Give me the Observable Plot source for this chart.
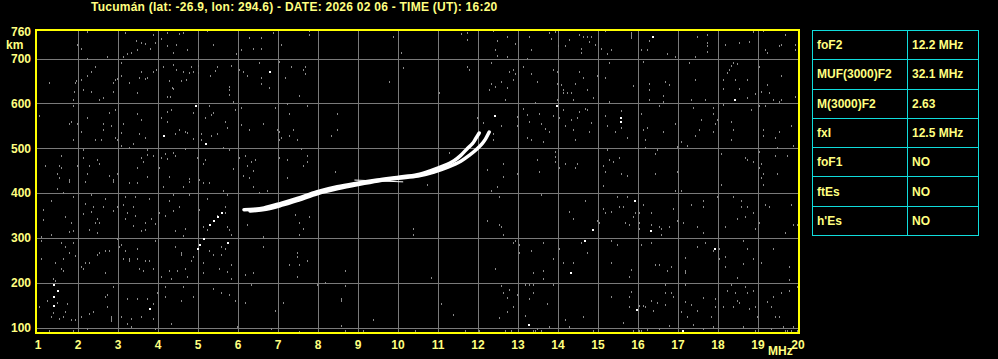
<!DOCTYPE html>
<html>
<head>
<meta charset="utf-8">
<script src="https://cdn.jsdelivr.net/npm/d3@7"></script>
<script src="https://cdn.jsdelivr.net/npm/@observablehq/plot@0.6"></script>
<style>
html, body { margin: 0; padding: 0; background: #000; }
#wrap { position: relative; width: 998px; height: 359px; overflow: hidden; background: #000;
  font-family: "Liberation Sans", Arial, sans-serif; font-weight: bold; color: #ffff80; }
#chart { position: absolute; left: 0; top: 0; }
.lbl { position: absolute; font-size: 12px; line-height: 12px; white-space: nowrap; color: #ffff80; }
#title { left: 91px; top: 1px; letter-spacing: 0.25px; }
#km { left: 6px; top: 39px; }
#mhz { left: 768px; top: 345px; }
#tbl { position: absolute; left: 812px; top: 30px; border-collapse: collapse; }
#tbl td { border: 1px solid #10dcdc; height: 29.3px; padding: 0 0 0 4px; font-size: 12px;
  color: #ffff80; vertical-align: middle; white-space: nowrap; box-sizing: border-box; }
#tbl td.k { width: 95px; }
#tbl td.v { width: 71px; }
</style>
</head>
<body>
<div id="wrap">
  <div id="chart"></div>
  <div class="lbl" id="title"></div>
  <div class="lbl" id="km">km</div>
  <div class="lbl" id="mhz">MHz</div>
  <table id="tbl"></table>
</div>
<script>
// ---------- texts ----------
const titleText = "Tucumán (lat: -26.9, lon: 294.6) - DATE: 2026 02 06 - TIME (UT): 16:20";
const paramNames = ["foF2", "MUF(3000)F2", "M(3000)F2", "fxI", "foF1", "ftEs", "h'Es"];
const paramValues = ["12.2 MHz", "32.1 MHz", "2.63", "12.5 MHz", "NO", "NO", "NO"];

// ---------- axes ----------
const freqTicks = d3.range(1, 21);            // MHz
const heightTicks = [100, 200, 300, 400, 500, 600, 700, 760]; // km
const gridFreq = d3.range(2, 20);
const gridHeight = [100, 200, 300, 400, 500, 600, 700];

// ---------- traces (MHz, km) ----------
const oFreq   = [6.15, 6.40, 6.65, 7.07, 7.48, 7.98, 8.48, 8.98, 9.48, 9.98, 10.48, 10.82, 11.15, 11.40, 11.57, 11.73, 11.86, 11.94, 12.03];
const oHeight = [364, 365, 368, 378, 389, 404, 415, 423, 430, 436, 442, 451, 462, 473, 485, 500, 511, 522, 535];
const xFreq   = [6.30, 6.70, 7.10, 7.50, 8.00, 8.50, 9.00, 9.50, 10.00, 10.50, 10.90, 11.25, 11.57, 11.78, 11.98, 12.11, 12.19, 12.28];
const xHeight = [361, 365, 374, 385, 400, 411, 420, 428, 434, 439, 448, 459, 472, 485, 500, 512, 522, 537];
const echoFreq   = [8.92, 9.50, 10.12];
const echoHeight = [430, 428, 426];

// ---------- background noise echoes (MHz, km) ----------
const noiseGray = [
[2.25,760],[3.19,758],[3.90,753],[4.25,758],[4.54,754],[4.65,758],[5.25,762],[4.10,744],[3.48,739],[3.61,734],[3.69,733],[3.94,735],
[4.25,727],[4.48,730],[4.40,713],[4.75,718],[5.39,730],[6.30,745],[6.59,745],[6.90,758],[7.11,730],[6.10,718],[6.40,722],[6.60,722],
[2.09,722],[2.00,731],[2.75,704],[3.15,704],[3.25,710],[3.36,713],[3.50,718],[3.82,722],[5.98,709],[7.05,693],[2.25,698],[2.45,680],
[2.35,669],[2.25,660],[2.10,652],[1.98,649],[1.94,645],[1.30,645],[1.92,626],[1.89,608],[2.15,630],[2.35,626],[2.55,608],[2.65,612],
[2.90,626],[2.90,645],[2.96,651],[3.00,654],[3.10,690],[3.10,662],[3.30,645],[3.50,622],[3.55,657],[3.61,669],[3.70,654],[3.75,657],
[3.90,671],[3.98,674],[4.15,681],[4.30,649],[4.38,635],[4.40,685],[4.48,675],[4.60,649],[4.65,671],[4.73,652],[4.80,667],[4.85,682],
[4.90,671],[5.03,684],[5.03,667],[5.33,662],[5.45,673],[5.50,680],[5.85,684],[5.80,637],[5.80,630],[5.80,618],[6.05,675],[6.15,671],
[6.25,660],[6.55,689],[6.60,657],[6.60,644],[6.80,635],[7.19,657],[4.25,615],[4.33,615],[4.39,633],
[1.89,594],[1.05,572],[1.80,554],[1.85,558],[2.00,555],[2.09,535],[1.89,518],[2.25,567],[2.45,518],[2.60,518],[2.65,554],[2.65,540],
[2.80,578],[2.85,549],[2.95,585],[2.95,522],[3.00,518],[3.10,533],[3.15,554],[3.30,501],[3.40,509],[3.50,576],[3.55,532],[3.60,563],
[3.70,522],[4.10,567],[4.25,581],[4.25,558],[4.35,585],[4.45,532],[4.55,540],[4.70,537],[4.75,533],[4.90,578],[4.90,521],[5.10,531],
[5.10,518],[5.20,567],[5.30,594],[5.35,573],[5.40,578],[5.35,527],[5.50,532],[5.70,559],[5.75,545],[5.90,602],[5.95,585],[6.10,590],
[6.10,552],[6.30,540],[6.65,555],[6.95,590],[7.00,540],[7.05,536],[7.05,518],[7.25,599],[7.30,576],[7.30,527],[7.10,523],
[1.20,460],[1.55,460],[1.60,482],[1.60,456],[1.50,442],[1.55,433],[1.80,429],[2.00,460],[2.15,496],[2.15,479],[2.30,460],[2.25,442],
[2.50,473],[2.55,464],[2.80,438],[2.90,429],[3.00,442],[3.10,505],[3.50,456],[3.60,478],[3.65,469],[3.75,496],[3.75,485],[3.75,436],
[3.90,482],[4.05,456],[4.10,478],[4.20,487],[4.25,476],[4.30,436],[4.40,490],[4.45,482],[4.70,499],[4.80,432],[5.00,478],[5.05,429],
[5.15,464],[5.20,473],[5.90,454],[5.80,496],[5.65,500],[6.05,478],[6.20,482],[6.25,460],[6.35,469],[6.40,450],[6.45,473],[6.15,438],
[6.30,433],[7.05,478],[7.25,473],[7.25,433],
[7.79,762],[7.79,753],[9.89,749],[10.09,713],[7.35,680],[7.64,675],[7.70,680],[7.70,666],[10.14,679],[9.79,648],[7.55,617],[11.04,622],
[11.74,680],[11.79,675],[11.59,754],[11.74,758],[11.74,742],[12.39,762],[12.49,740],[12.74,748],[12.94,733],[13.29,749],[12.44,718],
[12.49,706],[12.74,704],[13.34,718],[13.24,699],[12.34,690],[13.14,680],[13.34,666],[12.79,670],[12.89,675],[12.94,666],[12.89,651],
[12.59,648],[12.44,637],[12.34,643],[12.29,630],[12.74,635],[13.49,648],[12.69,608],[13.44,600],[7.74,594],[8.49,576],[7.39,540],
[7.49,518],[8.49,540],[8.34,527],[7.59,499],[7.74,482],[7.64,460],[7.74,469],[8.44,447],[11.99,567],[12.14,557],[12.59,549],[12.39,532],
[12.39,518],[12.99,569],[13.14,587],[13.24,574],[13.29,558],[13.54,576],[13.59,555],[12.99,549],[13.24,523],[13.34,518],[13.64,514],
[11.29,490],[12.24,451],[12.64,464],[12.64,436],[12.99,442],[13.49,473],[13.54,447],
[13.96,760],[14.02,760],[13.79,757],[13.84,744],[14.02,727],[14.19,727],[14.29,742],[14.54,753],[14.64,749],[14.74,749],[14.84,749],
[14.79,736],[14.94,730],[14.59,722],[14.59,713],[15.19,762],[15.09,722],[15.24,709],[15.34,718],[15.84,757],[15.84,753],[15.84,749],
[15.84,745],[16.29,740],[16.09,718],[16.24,718],[16.74,709],[16.96,704],[17.49,749],[17.74,753],[17.74,734],[17.74,727],[17.74,715],
[17.44,704],[18.19,730],[18.54,734],[18.79,736],[18.89,760],[19.14,762],[19.19,718],[19.24,713],[19.54,727],[19.59,731],[19.69,753],
[19.94,730],[19.94,718],[13.89,675],[13.99,670],[14.54,669],[14.64,657],[14.44,643],[14.74,630],[14.89,613],[14.99,662],[13.99,643],
[14.09,640],[14.14,630],[14.14,622],[14.24,622],[14.34,622],[14.39,608],[13.99,608],[15.29,689],[15.19,657],[15.29,603],[15.89,639],
[16.14,692],[16.29,643],[16.29,630],[16.29,608],[16.69,648],[16.79,640],[16.64,617],[16.64,603],[17.29,689],[17.44,651],[17.34,608],
[17.69,608],[18.14,652],[18.14,633],[18.24,667],[18.29,675],[18.34,684],[18.39,690],[18.49,688],[18.44,652],[18.54,633],[18.74,652],
[18.74,612],[18.94,621],[19.04,680],[19.09,626],[19.24,640],[19.29,622],[19.39,608],[19.54,603],[19.59,660],[19.59,608],[19.94,615],
[14.14,585],[13.89,572],[14.04,567],[13.69,543],[13.79,536],[14.34,563],[14.39,540],[14.44,518],[14.49,567],[14.54,581],[14.69,587],
[14.74,585],[14.84,557],[14.79,536],[14.19,549],[15.19,572],[15.24,549],[15.59,584],[15.59,545],[15.44,536],[15.74,523],[16.09,576],
[16.14,540],[16.24,545],[16.19,518],[16.54,594],[16.64,536],[16.94,554],[17.09,514],[16.99,503],[17.24,505],[17.39,590],[17.44,527],
[17.59,563],[17.54,540],[17.89,590],[17.89,576],[17.94,554],[17.89,536],[17.99,563],[18.14,596],[18.34,558],[18.39,540],[18.34,518],
[18.84,585],[19.04,594],[19.14,540],[19.14,527],[19.44,523],[19.54,536],[19.84,549],[19.89,505],[19.19,594],
[13.94,491],[13.94,481],[13.94,469],[14.04,456],[14.19,464],[14.44,456],[14.49,464],[15.24,496],[15.29,473],[15.39,469],[15.54,478],
[15.14,460],[15.19,447],[15.59,442],[15.74,438],[16.19,500],[16.49,496],[16.44,487],[16.44,442],[16.99,447],[18.09,487],[18.69,478],
[18.74,473],[18.89,469],[19.04,491],[19.09,464],[19.04,456],[19.14,442],[19.09,433],[19.44,482],[19.49,500],[19.49,442],[19.74,482],
[1.80,425],[2.20,425],[2.90,425],[3.30,423],[3.50,423],[4.15,414],[4.65,414],[4.80,425],[5.15,423],[5.30,423],[5.65,405],[6.40,414],
[1.50,409],[1.65,400],[1.90,391],[2.35,396],[2.70,387],[3.20,391],[3.45,391],[3.80,387],[4.40,396],[4.80,396],[5.25,387],[5.75,396],
[6.55,400],[6.75,405],[1.15,362],[1.15,339],[1.35,383],[1.70,347],[1.85,332],[1.90,315],[1.80,313],[2.20,375],[2.15,354],[2.40,369],
[2.35,358],[2.50,343],[2.55,333],[2.45,333],[2.30,318],[2.50,311],[2.65,369],[2.90,360],[3.00,369],[3.15,374],[3.25,356],[3.20,342],
[3.40,369],[3.40,326],[3.45,348],[3.60,315],[3.70,333],[3.70,317],[3.85,342],[3.95,330],[4.05,356],[4.20,348],[4.30,383],[4.40,360],
[4.45,315],[4.55,369],[4.70,320],[4.65,305],[5.05,362],[5.15,324],[5.25,317],[5.50,348],[5.70,369],[5.70,356],[5.75,324],[5.80,317],
[5.85,306],[6.25,328],[6.65,302],[1.10,302],[1.10,293],[1.35,307],[1.60,289],[1.70,280],[1.80,266],[1.90,289],[1.65,253],[1.10,253],
[1.45,244],[1.60,230],[1.65,226],[1.95,259],[2.10,235],[2.15,230],[2.20,244],[2.30,244],[2.50,262],[2.55,266],[2.70,271],[2.80,271],
[2.70,222],[3.00,298],[3.05,280],[3.10,284],[3.20,271],[3.15,253],[3.30,253],[3.30,248],[3.50,275],[3.50,253],[3.55,230],[3.65,226],
[3.70,248],[3.80,248],[3.90,230],[3.95,293],[4.10,213],[4.30,226],[4.35,208],[4.45,280],[4.50,226],[4.60,266],[4.60,262],[4.70,230],
[4.75,213],[4.85,248],[4.90,257],[5.15,244],[5.15,222],[5.30,271],[5.40,262],[5.55,230],[5.60,280],[5.60,262],[5.70,275],[5.75,223],
[5.85,208],[5.85,239],[6.20,217],[6.40,222],[6.65,280],[7.30,239],[1.40,208],[1.45,204],[1.05,146],[1.25,159],[1.35,123],[1.40,132],
[1.50,155],[1.55,119],[1.65,123],[1.70,134],[1.75,152],[1.85,116],[1.95,116],[2.10,123],[2.25,96],[2.30,129],[2.40,134],[2.70,168],
[2.75,172],[2.75,146],[2.85,123],[2.85,119],[2.85,114],[2.90,190],[3.10,123],[3.25,163],[3.25,107],[3.35,101],[3.35,119],[3.50,163],
[3.60,123],[3.75,163],[3.90,152],[3.90,119],[3.95,96],[4.00,177],[4.20,190],[4.20,168],[4.35,107],[4.60,159],[4.65,190],[4.90,168],
[5.40,186],[5.60,177],[5.80,172],[5.95,160],[6.00,101],[6.20,155],[6.35,195],[6.85,96],[6.95,137],[7.15,155],
[10.74,418],[12.49,414],[12.34,405],[12.54,391],[13.59,396],[7.44,351],[7.79,347],[7.54,332],[7.64,320],[7.54,307],[10.39,320],[10.39,307],
[12.24,338],[12.54,329],[12.59,324],[12.64,307],[12.94,293],[12.89,289],[13.04,284],[13.04,266],[13.34,271],[13.64,289],[7.49,266],
[7.49,257],[7.74,248],[7.54,239],[7.49,213],[8.69,226],[10.84,211],[12.44,230],[13.39,222],[13.64,226],[13.64,208],[7.99,195],[8.19,199],
[8.69,192],[8.59,164],[8.59,159],[12.59,192],[12.79,184],[12.64,177],[12.74,166],[12.89,146],[12.99,172],[13.19,195],[13.29,195],
[13.39,195],[13.39,177],[13.29,164],[11.09,152],[11.39,128],[9.39,116],[12.54,122],[12.74,134],[13.19,126],[8.59,103],[7.54,90],
[8.69,92],[12.69,93],[12.84,92],[13.49,96],[13.59,92],
[15.14,415],[16.94,405],[17.09,405],[18.09,418],[19.14,418],[14.69,383],[14.29,357],[14.39,342],[14.99,338],[15.04,333],[15.14,365],
[15.19,356],[15.34,357],[15.49,391],[15.54,369],[15.64,369],[15.74,391],[15.69,333],[15.79,329],[15.89,347],[15.94,356],[16.04,356],
[16.04,333],[16.04,320],[16.14,374],[16.34,356],[16.34,329],[16.54,324],[16.59,320],[16.59,307],[16.79,324],[16.89,365],[16.99,338],
[17.14,333],[17.34,374],[17.49,324],[17.64,383],[17.64,369],[17.64,311],[17.99,391],[18.19,324],[18.39,391],[18.49,342],[18.59,383],
[18.59,369],[18.69,347],[18.74,369],[18.89,356],[18.94,320],[19.04,333],[19.19,374],[19.29,369],[19.69,311],[19.84,374],[19.89,329],
[19.99,329],[14.59,289],[14.74,266],[14.04,275],[13.89,253],[14.14,244],[14.39,244],[15.34,293],[15.49,284],[15.34,244],[15.84,229],
[15.79,213],[16.09,284],[16.34,289],[16.44,239],[16.54,239],[16.74,226],[16.84,235],[17.19,254],[17.19,226],[17.19,222],[17.49,280],
[17.69,289],[17.89,271],[18.04,275],[18.04,253],[18.19,257],[18.19,235],[18.49,210],[18.64,293],[18.64,242],[18.74,275],[18.89,253],
[19.09,244],[19.39,275],[19.79,235],[19.79,205],[13.89,195],[13.74,152],[14.19,116],[14.64,123],[13.79,102],[14.29,102],[15.34,168],
[15.79,168],[15.84,180],[15.79,146],[16.04,149],[16.14,149],[16.19,146],[16.34,159],[16.39,137],[16.49,154],[16.69,195],[16.69,177],
[16.69,150],[16.89,168],[16.84,177],[16.79,104],[17.09,134],[17.19,195],[17.19,156],[17.34,150],[17.24,123],[17.49,137],[17.64,166],
[17.84,123],[17.94,164],[17.94,146],[18.14,146],[18.24,181],[18.34,195],[18.44,177],[18.49,159],[18.39,146],[18.54,155],[18.69,190],
[18.74,177],[18.89,181],[18.79,141],[18.94,146],[18.99,123],[19.24,156],[19.34,146],[19.39,168],[19.44,123],[19.54,123],[19.59,177],
[19.79,181],[19.89,101],[19.99,190],[15.64,111],[15.89,92],[16.24,95],[16.54,96],[17.39,105],[17.64,96],[17.89,101],[18.64,102],
[19.34,96],[19.64,101],[19.84,92],[19.99,92],[16.04,92],[16.09,92],[11.69,92],[12.04,92],[10.44,92],[9.14,92],[1.30,92],[1.90,92],
[14.89,92],[18.94,92],[19.69,92],[19.74,92],[13.39,92],[13.44,92]
];
const noiseWhite = [
[6.80,669],[4.95,594],[4.15,527],[5.20,509],[12.44,572],[16.39,749],[18.44,608],[13.99,594],[15.59,567],[15.59,558],
[1.40,195],[1.50,181],[1.40,168],[1.40,147],[3.80,141],[5.75,289],[5.00,275],[5.05,284],[5.15,298],[5.30,329],[5.40,338],
[5.50,347],[5.60,356],[13.29,105],[15.94,383],[16.34,315],[14.89,317],[14.69,293],[14.34,222],[17.94,275],[15.99,138],[17.14,92]
];

// ---------- build ----------
const oTrace = oFreq.map((f, i) => ({f, h: oHeight[i]}));
const xTrace = xFreq.map((f, i) => ({f, h: xHeight[i]}));
const echo = echoFreq.map((f, i) => ({f, h: echoHeight[i]}));

const yellow = "#ffff00";
const txt = "#ffff80";
const grey = "#7a7a7a";

const chart = Plot.plot({
  width: 998,
  height: 359,
  marginLeft: 35.5,
  marginRight: 199.5,
  marginTop: 29.5,
  marginBottom: 26.5,
  style: {background: "#000", color: txt, fontFamily: "'Liberation Sans', Arial, sans-serif", fontWeight: "bold", fontSize: "12px", overflow: "visible"},
  x: {domain: [0.95, 20.025]},
  y: {domain: [88.85, 764.7]},
  marks: [
    Plot.ruleX(gridFreq, {stroke: grey, strokeWidth: 1, shapeRendering: "crispEdges"}),
    Plot.ruleY(gridHeight, {stroke: grey, strokeWidth: 1, shapeRendering: "crispEdges"}),
    Plot.rect(noiseGray, {x1: d => d[0], x2: d => d[0], y1: d => d[1], y2: d => d[1],
      insetLeft: -0.5, insetRight: -0.5, insetTop: -1, insetBottom: -1, fill: "#8a8a8a", shapeRendering: "crispEdges"}),
    Plot.rect(noiseWhite, {x1: d => d[0], x2: d => d[0], y1: d => d[1], y2: d => d[1],
      insetLeft: -1, insetRight: -1, insetTop: -1, insetBottom: -1, fill: "#ffffff", shapeRendering: "crispEdges"}),
    Plot.line(echo, {x: "f", y: "h", stroke: "#ffffff", strokeWidth: 1}),
    Plot.line(xTrace, {x: "f", y: "h", stroke: "#ffffff", strokeWidth: 3.5, curve: "catmull-rom"}),
    Plot.line(oTrace, {x: "f", y: "h", stroke: "#ffffff", strokeWidth: 3.5, curve: "catmull-rom"}),
    Plot.frame({stroke: yellow, strokeWidth: 1.2, shapeRendering: "crispEdges"}),
    Plot.axisX({ticks: freqTicks, tickFormat: d => String(d), tickSize: 0, tickPadding: 7, fill: txt, fontSize: 12, fontWeight: "bold", label: null}),
    Plot.axisY({ticks: heightTicks, tickFormat: d => String(d), tickSize: 0, tickPadding: 5, fill: txt, fontSize: 12, fontWeight: "bold", label: null})
  ]
});
document.getElementById("chart").appendChild(chart);
document.getElementById("title").textContent = titleText;

const tbl = d3.select("#tbl");
paramNames.forEach((n, i) => {
  const tr = tbl.append("tr");
  tr.append("td").attr("class", "k").text(n);
  tr.append("td").attr("class", "v").text(paramValues[i]);
});
</script>
</body>
</html>
